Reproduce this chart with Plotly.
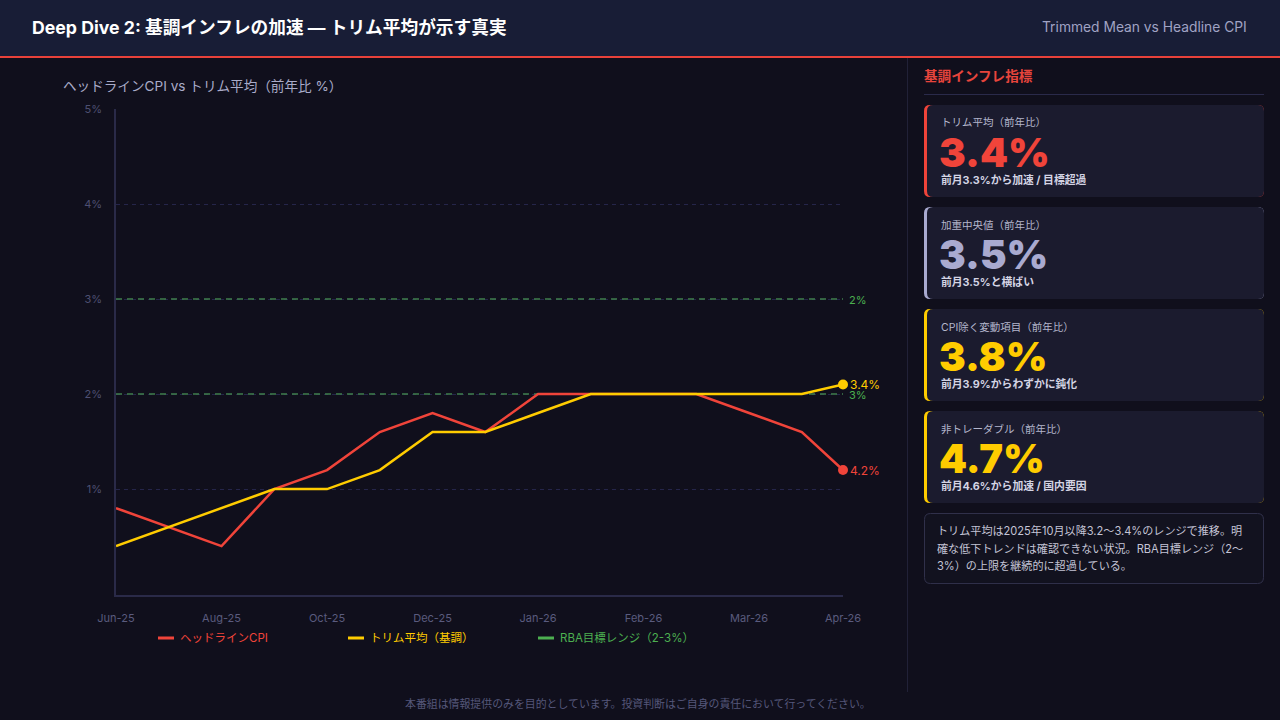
import plotly.graph_objects as go

# ---------------- data ----------------
period_pos = [0, 1, 2, 3, 4, 5, 6, 7, 8, 9, 10, 11, 12, 13, 13.78]
headline_cpi = [0.8, 0.6, 0.4, 1.0, 1.2, 1.6, 1.8, 1.6, 2.0, 2.0, 2.0, 2.0, 1.8, 1.6, 1.2]
trimmed_mean = [0.4, 0.6, 0.8, 1.0, 1.0, 1.2, 1.6, 1.6, 1.8, 2.0, 2.0, 2.0, 2.0, 2.0, 2.1]
x_tick_pos = [0, 2, 4, 6, 8, 10, 12, 13.78]
x_tick_labels = ["Jun-25", "Aug-25", "Oct-25", "Dec-25", "Jan-26", "Feb-26", "Mar-26", "Apr-26"]
y_tick_vals = [1, 2, 3, 4, 5]
y_tick_labels = ["1%", "2%", "3%", "4%", "5%"]
rba_levels = [3.0, 2.0]
rba_labels = ["2%", "3%"]
headline_end_label = "4.2%"
trimmed_end_label = "3.4%"

series_names = ["ヘッドラインCPI", "トリム平均（基調）", "RBA目標レンジ（2-3%）"]

card_labels = ["トリム平均（前年比）", "加重中央値（前年比）", "CPI除く変動項目（前年比）", "非トレーダブル（前年比）"]
card_values = ["3.4%", "3.5%", "3.8%", "4.7%"]
card_subs = ["前月3.3%から加速 / 目標超過", "前月3.5%と横ばい", "前月3.9%からわずかに鈍化", "前月4.6%から加速 / 国内要因"]
note_lines = ["トリム平均は2025年10月以降3.2〜3.4%のレンジで推移。明",
              "確な低下トレンドは確認できない状況。RBA目標レンジ（2〜",
              "3%）の上限を継続的に超過している。"]

# ---------------- style ----------------
RED = "#f0443a"
YELLOW = "#ffcc00"
GREEN_LINE = "#3f7f4c"
GREEN_TXT = "#4caf50"
LAV = "#a9aad0"
BG = "#100f1c"
HEADER_BG = "#181d36"
CARD_BG = "#1b1b2e"
FONT = "Inter, Noto Sans CJK JP, sans-serif"
card_colors = [RED, LAV, YELLOW, YELLOW]

W_FIG, H_FIG = 1280, 720
L, R, T, B = 116, 437, 109, 125
PW = W_FIG - L - R
PH = H_FIG - T - B


def px(x):
    return (x - L) / PW


def py(y):
    return (H_FIG - B - y) / PH


def rrect(x0, y0, x1, y1, r):
    # rounded rectangle path in paper coords from pixel coords
    def P(x, y):
        return f"{px(x):.6f},{py(y):.6f}"
    return (f"M {P(x0 + r, y0)} L {P(x1 - r, y0)} Q {P(x1, y0)} {P(x1, y0 + r)} "
            f"L {P(x1, y1 - r)} Q {P(x1, y1)} {P(x1 - r, y1)} "
            f"L {P(x0 + r, y1)} Q {P(x0, y1)} {P(x0, y1 - r)} "
            f"L {P(x0, y0 + r)} Q {P(x0, y0)} {P(x0 + r, y0)} Z")


fig = go.Figure()

# RBA target lines
for lvl in rba_levels:
    fig.add_trace(go.Scatter(x=[period_pos[0], period_pos[-1]], y=[lvl, lvl], mode="lines",
                             line=dict(color=GREEN_LINE, width=1.5, dash="6px,5px"),
                             hoverinfo="skip", showlegend=False))

fig.add_trace(go.Scatter(x=period_pos, y=headline_cpi, mode="lines",
                         line=dict(color=RED, width=2.5), name=series_names[0], showlegend=False))
fig.add_trace(go.Scatter(x=period_pos, y=trimmed_mean, mode="lines",
                         line=dict(color=YELLOW, width=2.5), name=series_names[1], showlegend=False))

# end markers
fig.add_trace(go.Scatter(x=[period_pos[-1]], y=[trimmed_mean[-1]], mode="markers",
                         marker=dict(color=YELLOW, size=10), showlegend=False, cliponaxis=False))
fig.add_trace(go.Scatter(x=[period_pos[-1]], y=[headline_cpi[-1]], mode="markers",
                         marker=dict(color=RED, size=10), showlegend=False, cliponaxis=False))

shapes = []
ann = []

# end labels (data coords)
ann.append(dict(text=trimmed_end_label, x=period_pos[-1], y=trimmed_mean[-1], xref="x", yref="y",
                xanchor="left", yanchor="middle", xshift=5, font=dict(size=12, color=YELLOW, family=FONT)))
ann.append(dict(text=headline_end_label, x=period_pos[-1], y=headline_cpi[-1], xref="x", yref="y",
                xanchor="left", yanchor="middle", xshift=5, font=dict(size=12, color=RED, family=FONT)))
for lvl, lab in zip(rba_levels, rba_labels):
    ann.append(dict(text=lab, x=period_pos[-1], y=lvl, xref="x", yref="y", xanchor="left",
                    yanchor="middle", xshift=4, yshift=-1, font=dict(size=11, color=GREEN_TXT, family=FONT)))

# backgrounds
shapes.append(dict(type="rect", xref="paper", yref="paper", x0=px(0), x1=px(W_FIG), y0=py(0), y1=py(57),
                   fillcolor=HEADER_BG, line_width=0, layer="below"))
shapes.append(dict(type="rect", xref="paper", yref="paper", x0=px(0), x1=px(W_FIG), y0=py(56), y1=py(58),
                   fillcolor="#e8413a", line_width=0, layer="below"))
shapes.append(dict(type="line", xref="paper", yref="paper", x0=px(907.5), x1=px(907.5), y0=py(58), y1=py(692),
                   line=dict(color="#212137", width=1), layer="below"))
shapes.append(dict(type="line", xref="paper", yref="paper", x0=px(924), x1=px(1264), y0=py(94.5), y1=py(94.5),
                   line=dict(color="#2a2a4a", width=1), layer="below"))

# header texts
ann.append(dict(text="<b>Deep Dive 2: 基調インフレの加速 — トリム平均が示す真実</b>", x=px(30), y=py(28),
                xanchor="left", yanchor="middle", font=dict(size=17.7, color="#ffffff", family=FONT)))
ann.append(dict(text="Trimmed Mean vs Headline CPI", x=px(1249), y=py(27), xanchor="right", yanchor="middle",
                font=dict(size=13.8, color="#a0a3c4", family=FONT)))
ann.append(dict(text="ヘッドラインCPI vs トリム平均（前年比 %）", x=px(61), y=py(86), xanchor="left",
                yanchor="middle", font=dict(size=13.6, color="#a9abc9", family=FONT)))

# legend
legend_colors = [RED, YELLOW, GREEN_TXT]
legend_x = [158, 348, 538]
for name, col, lx in zip(series_names, legend_colors, legend_x):
    shapes.append(dict(type="line", xref="paper", yref="paper", x0=px(lx), x1=px(lx + 16), y0=py(638), y1=py(638),
                       line=dict(color=col, width=3)))
    ann.append(dict(text=name, x=px(lx + 20), y=py(638), xanchor="left", yanchor="middle",
                    font=dict(size=11.5, color=col, family=FONT)))

# right panel
ann.append(dict(text="<b>基調インフレ指標</b>", x=px(922), y=py(76), xanchor="left", yanchor="middle",
                font=dict(size=13.6, color="#e8453c", family=FONT)))
for i, (lab, val, sub, col) in enumerate(zip(card_labels, card_values, card_subs, card_colors)):
    top = 105 + 102 * i
    bot = top + 92
    shapes.append(dict(type="path", xref="paper", yref="paper", path=rrect(924, top, 1264, bot, 6),
                       fillcolor=col, line_width=0, layer="below"))
    shapes.append(dict(type="path", xref="paper", yref="paper", path=rrect(927, top, 1264, bot, 6),
                       fillcolor=CARD_BG, line_width=0, layer="below"))
    ann.append(dict(text=lab, x=px(939), y=py(top + 18), xanchor="left", yanchor="middle",
                    font=dict(size=10.5, color="#b4b6cc", family=FONT)))
    ann.append(dict(text=val, x=px(937), y=py(top + 47), xanchor="left", yanchor="middle",
                    font=dict(size=40, color=col, family=FONT, weight=900)))
    ann.append(dict(text="<b>" + sub + "</b>", x=px(939), y=py(top + 75), xanchor="left", yanchor="middle",
                    font=dict(size=10.8, color="#d4d4e4", family=FONT)))

# note box
shapes.append(dict(type="path", xref="paper", yref="paper", path=rrect(924.5, 513.5, 1263.5, 583.5, 6),
                   fillcolor="#12121f", line=dict(color="#30304a", width=1), layer="below"))
for j, line in enumerate(note_lines):
    ann.append(dict(text=line, x=px(935), y=py(531 + 17.5 * j), xanchor="left", yanchor="middle",
                    font=dict(size=11.1, color="#c4c4d6", family=FONT)))

# footer
ann.append(dict(text="本番組は情報提供のみを目的としています。投資判断はご自身の責任において行ってください。",
                x=px(638), y=py(704), xanchor="center", yanchor="middle",
                font=dict(size=10.9, color="#55577a", family=FONT)))

for a in ann:
    a.setdefault("xref", "paper")
    a.setdefault("yref", "paper")
    a["showarrow"] = False

fig.update_layout(
    width=W_FIG, height=H_FIG,
    margin=dict(l=L, r=R, t=T, b=B, pad=0),
    paper_bgcolor=BG, plot_bgcolor=BG,
    showlegend=False,
    shapes=shapes, annotations=ann,
    font=dict(family=FONT),
    xaxis=dict(range=[period_pos[0], period_pos[-1]], tickmode="array", tickvals=x_tick_pos,
               ticktext=x_tick_labels, showgrid=False, zeroline=False, showline=True,
               linecolor="#2a2a48", linewidth=1.5, ticks="", ticklabelstandoff=12,
               tickfont=dict(size=11, color="#5a5b7e", family=FONT)),
    yaxis=dict(range=[-0.115, 5], tickmode="array", tickvals=y_tick_vals, ticktext=y_tick_labels,
               showgrid=True, gridcolor="#25254a", griddash="4px,4px", gridwidth=1, zeroline=False,
               showline=True, linecolor="#2a2a48", linewidth=1.5, ticks="", ticklabelstandoff=10,
               tickfont=dict(size=11, color="#4e4f73", family=FONT)),
)

fig.write_html("out.html")
